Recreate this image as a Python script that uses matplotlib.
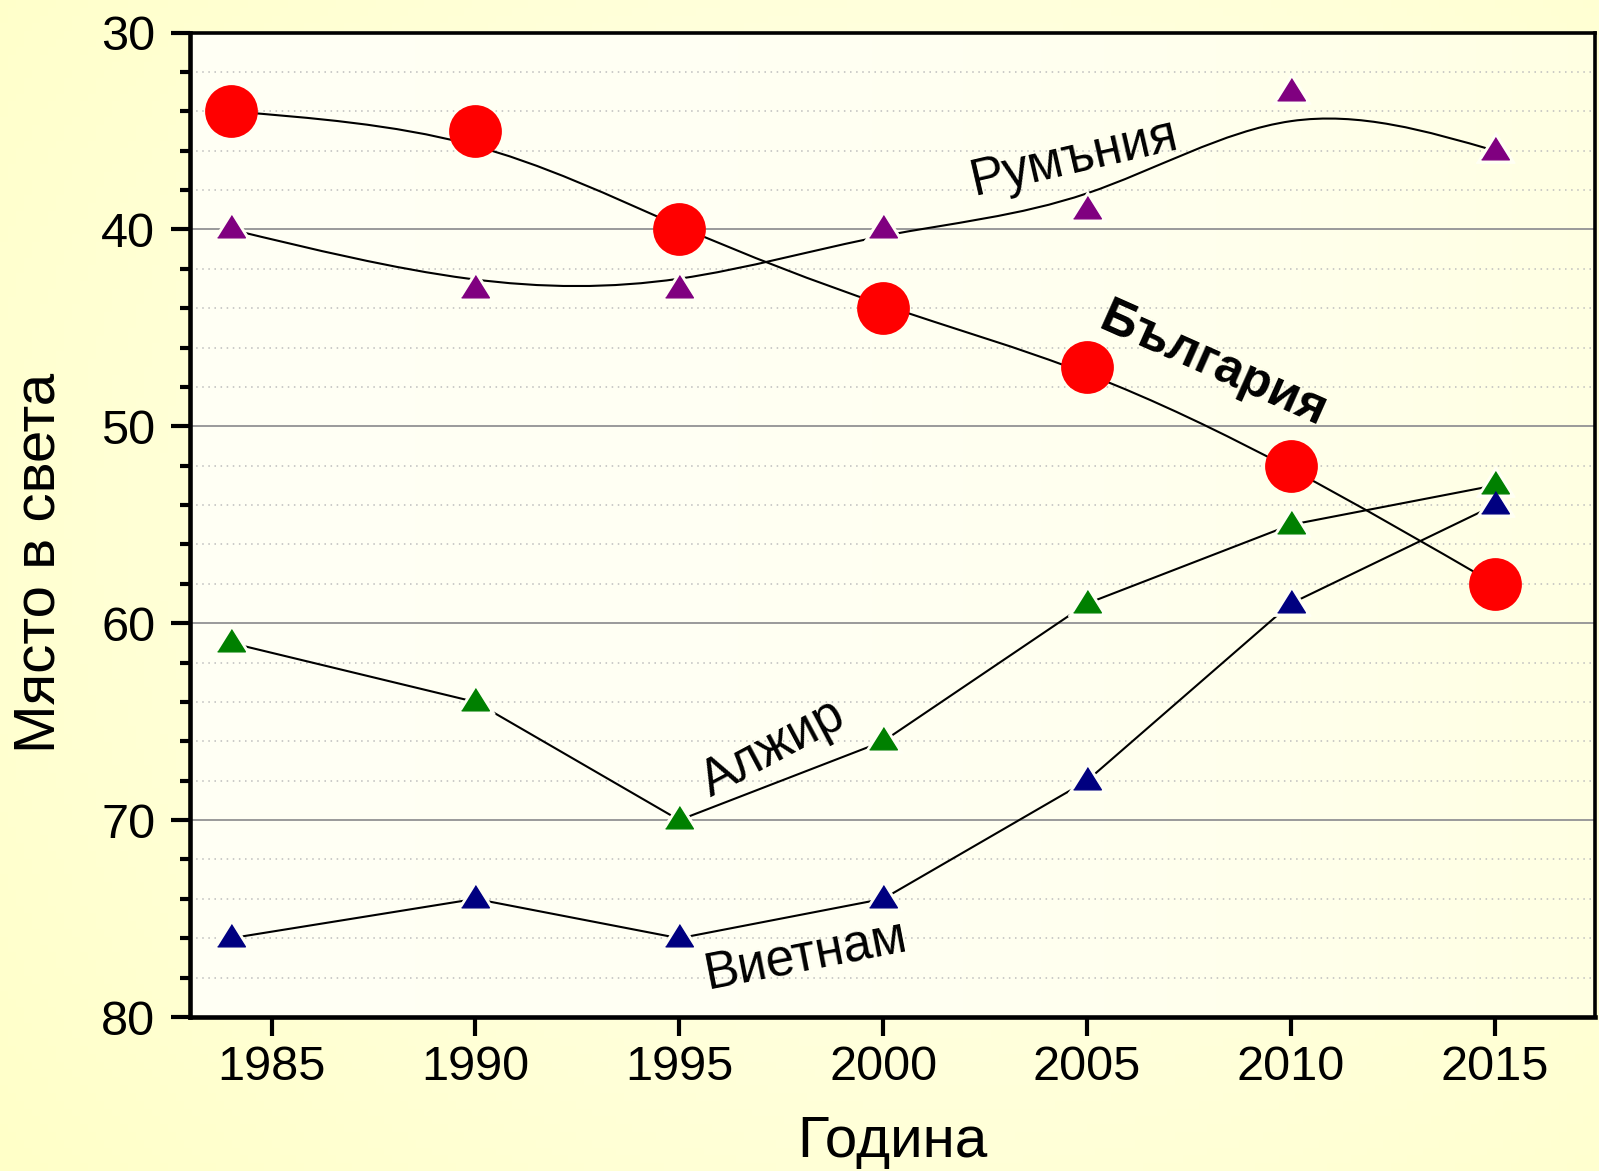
import numpy as np
import matplotlib
matplotlib.use("Agg")
import matplotlib.pyplot as plt
from matplotlib.path import Path
import matplotlib.patches as mpatches
from matplotlib.colors import LinearSegmentedColormap

plt.rcParams["font.family"] = ["Liberation Sans", "DejaVu Sans"]

# data
years = [1984, 1990, 1995, 2000, 2005, 2010, 2015]
bulgaria = [34, 35, 40, 44, 47, 52, 58]
romania = [40, 43, 43, 40, 39, 33, 36]
algeria = [61, 64, 70, 66, 59, 55, 53]
vietnam = [76, 74, 76, 74, 68, 59, 54]
xticks = [1985, 1990, 1995, 2000, 2005, 2010, 2015]
yticks = [30, 40, 50, 60, 70, 80]

ax_bg = "#FFFFF4"


def bspline_path(xs, ys):
    # cubic B-spline with the points as control points (ends pinned)
    P = np.column_stack([xs, ys]).astype(float)
    P = np.vstack([2 * P[0] - P[1], P, 2 * P[-1] - P[-2]])
    verts = [(P[0] + 4 * P[1] + P[2]) / 6]
    codes = [Path.MOVETO]
    for i in range(1, len(P) - 2):
        verts += [(2 * P[i] + P[i + 1]) / 3,
                  (P[i] + 2 * P[i + 1]) / 3,
                  (P[i] + 4 * P[i + 1] + P[i + 2]) / 6]
        codes += [Path.CURVE4] * 3
    return Path(verts, codes)


fig = plt.figure(figsize=(15.99, 11.71), dpi=100)

# figure background gradient
bg_ax = fig.add_axes([0, 0, 1, 1], zorder=-10)
gx, gy = np.meshgrid(np.linspace(0, 1, 200), np.linspace(0, 1, 150))
g = np.clip(np.sqrt(((gx - 0.6) / 0.8) ** 2 + ((gy - 0.45) / 0.9) ** 2), 0, 1)
bg_cmap = LinearSegmentedColormap.from_list("bg", ["#FFFFF0", "#FFFFC8"])
bg_ax.imshow(g, cmap=bg_cmap, aspect="auto", extent=[0, 1, 0, 1])
bg_ax.axis("off")

ax = fig.add_axes([0.1188, 0.1315, 0.8790, 0.8407])
ax.set_facecolor("none")
ag = np.tile(np.linspace(0, 1, 200), (10, 1)) ** 3
ax_cmap = LinearSegmentedColormap.from_list("axbg", [ax_bg, "#FFFFE2"])
ax.imshow(ag, cmap=ax_cmap, aspect="auto", extent=[0, 1, 0, 1],
          transform=ax.transAxes, zorder=0)

ax.set_xlim(1983, 2017.47)
ax.set_ylim(80, 30)

# grid
for v in range(32, 80, 2):
    if v % 10 != 0:
        ax.axhline(v, color="#BDBDBD", lw=1.1, ls=(0, (1, 3)), zorder=1)
for v in [40, 50, 60, 70]:
    ax.axhline(v, color="#9A9A9A", lw=1.4, zorder=1)

# lines
ax.add_patch(mpatches.PathPatch(bspline_path(years, romania), fill=False,
                                edgecolor="black", lw=1.5, zorder=2))
ax.add_patch(mpatches.PathPatch(bspline_path(years, bulgaria), fill=False,
                                edgecolor="black", lw=1.5, zorder=2))
ax.plot(years, algeria, color="black", lw=1.5, zorder=2)
ax.plot(years, vietnam, color="black", lw=1.5, zorder=2)

tri = [(-1, -0.6), (1, -0.6), (0, 1.0)]
for vals, col in [(romania, "#800080"), (algeria, "#008000"), (vietnam, "#000080")]:
    ax.plot(years, vals, ls="none", marker=tri, ms=28, color=ax_bg, zorder=3)
    ax.plot(years, vals, ls="none", marker=tri, ms=20, color=col, zorder=4)
ax.plot(years, bulgaria, ls="none", marker="o", ms=38, color="#FF0000",
        markeredgewidth=0, zorder=4)

# series labels
ax.text(2004.7, 36.4, "Румъния", fontsize=37, rotation=13,
        ha="center", va="center", zorder=5)
ax.text(2008.1, 46.9, "България", fontsize=36, fontweight="bold",
        rotation=-24, ha="center", va="center", zorder=5)
ax.text(1997.3, 66.4, "Алжир", fontsize=37, rotation=28,
        ha="center", va="center", zorder=5)
ax.text(1998.1, 76.9, "Виетнам", fontsize=37, rotation=11,
        ha="center", va="center", zorder=5)

# axes styling
for name, s in ax.spines.items():
    s.set_linewidth(3.3 if name in ("left", "bottom") else 2.6)
    s.set_zorder(6)
ax.set_xticks(xticks)
ax.set_yticks(yticks)
ax.set_yticks(range(32, 80, 2), minor=True)
ax.tick_params(axis="both", which="major", labelsize=35, width=3, length=14,
               direction="out")
ax.tick_params(axis="x", pad=6)
ax.tick_params(axis="y", pad=11)
ax.tick_params(axis="y", which="minor", width=3, length=7, direction="out")

ax.set_xlabel("Година", fontsize=42, va="center")
ax.set_ylabel("Място в света", fontsize=42, va="center")
ax.xaxis.set_label_coords(0.5, -0.127)
ax.yaxis.set_label_coords(-0.107, 0.461)

fig.savefig("out.png", dpi=100)
